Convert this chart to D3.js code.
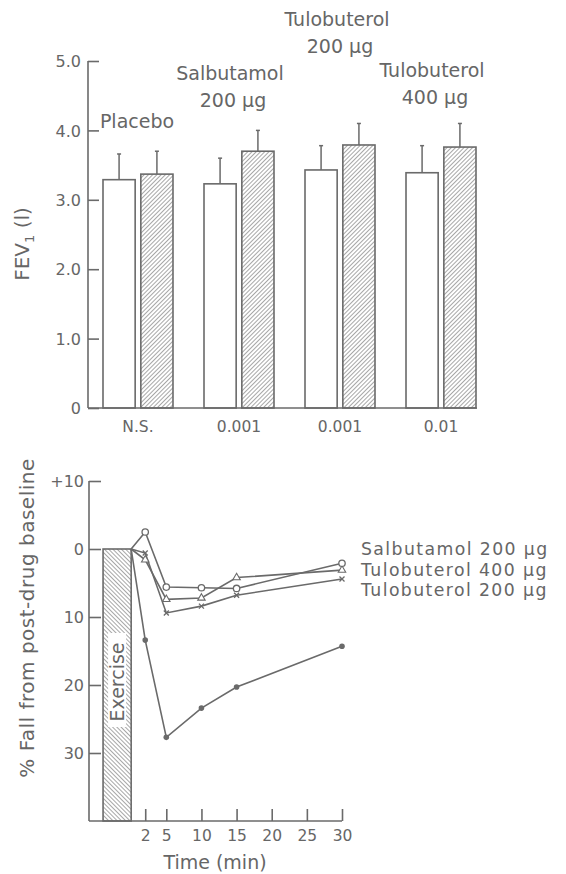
<!DOCTYPE html>
<html><head><meta charset="utf-8">
<script src="https://cdn.jsdelivr.net/npm/d3@7"></script>
<style>
html,body{margin:0;padding:0;background:#fff;}
svg{display:block;}
text{font-family:"DejaVu Sans",sans-serif;fill:#666;}
</style></head>
<body>
<svg id="c" width="566" height="874"></svg>
<script>
// ---- Data: top panel (FEV1, litres) ----
const groups = ["Placebo", "Salbutamol 200 μg", "Tulobuterol 200 μg", "Tulobuterol 400 μg"];
const groupLabelLines = [["Placebo"], ["Salbutamol", "200 μg"], ["Tulobuterol", "200 μg"], ["Tulobuterol", "400 μg"]];
const preMeans  = [3.29, 3.23, 3.43, 3.39];
const preSD     = [0.37, 0.37, 0.35, 0.39];
const postMeans = [3.37, 3.70, 3.79, 3.76];
const postSD    = [0.33, 0.30, 0.31, 0.34];
const pLabels   = ["N.S.", "0.001", "0.001", "0.01"];
const fevTicks  = [0, 1, 2, 3, 4, 5];

// ---- Data: bottom panel (% fall from post-drug baseline) ----
const times       = [0, 2, 5, 10, 15, 30];
const salbutamol  = [0, -2.5, 5.6, 5.7, 5.8, 2.1];
const tulo400     = [0, 1.6, 7.4, 7.2, 4.2, 3.1];
const tulo200     = [0, 0.6, 9.4, 8.4, 6.8, 4.4];
const placebo     = [0, 13.4, 27.7, 23.4, 20.3, 14.3];
const fallTicks   = [-10, 0, 10, 20, 30];
const timeTicks   = [2, 5, 10, 15, 20, 25, 30];
const exercise    = [-4, 0];
const legendNames = ["Salbutamol 200 μg", "Tulobuterol 400 μg", "Tulobuterol 200 μg"];

const C = "#6a6a6a";
const svg = d3.select("#c");

const defs = svg.append("defs");
function hatch(id, angle) {
  const p = defs.append("pattern").attr("id", id).attr("patternUnits", "userSpaceOnUse")
    .attr("width", 3).attr("height", 3).attr("patternTransform", `rotate(${angle})`);
  p.append("rect").attr("width", 3).attr("height", 3).attr("fill", "#fff");
  p.append("line").attr("x1", 0).attr("y1", 0).attr("x2", 0).attr("y2", 3)
    .attr("stroke", "#777").attr("stroke-width", 1.3);
}
hatch("h1", 45);
hatch("h2", -45);

// ================= TOP PANEL =================
const yT = d3.scaleLinear().domain([0, 5]).range([408, 61]);
const xG = d3.scaleBand().domain(groups).range([88, 491]).paddingInner(0.307).paddingOuter(0.1485);
const xS = d3.scaleBand().domain(["pre", "post"]).range([0, xG.bandwidth()]).paddingInner(0.15);

const gTop = svg.append("g");
const axT = d3.axisRight(yT).tickValues(fevTicks).tickSize(11).tickFormat(d => d === 0 ? "0" : d3.format(".1f")(d));
const gAT = gTop.append("g").attr("transform", "translate(88,0)").call(axT);
gAT.select(".domain").remove();
gAT.selectAll(".tick line").attr("stroke", C).attr("stroke-width", 1.6);
gAT.selectAll(".tick text").attr("x", -7).attr("text-anchor", "end").attr("dy", "0.36em")
  .style("font-size", "16px").attr("fill", "#666");
gTop.append("line").attr("x1", 88).attr("x2", 88).attr("y1", yT(5)).attr("y2", yT(0))
  .attr("stroke", C).attr("stroke-width", 1.6);

const bars = [];
groups.forEach((g, i) => {
  bars.push({g, k: "pre", v: preMeans[i], sd: preSD[i]});
  bars.push({g, k: "post", v: postMeans[i], sd: postSD[i]});
});
const bg = gTop.append("g");
bg.selectAll("rect").data(bars).join("rect")
  .attr("x", d => xG(d.g) + xS(d.k)).attr("width", xS.bandwidth())
  .attr("y", d => yT(d.v)).attr("height", d => yT(0) - yT(d.v))
  .attr("fill", d => d.k === "pre" ? "#fff" : "url(#h1)")
  .attr("stroke", C).attr("stroke-width", 1.6);
bg.selectAll("line.err").data(bars).join("line").attr("class", "err")
  .attr("x1", d => xG(d.g) + xS(d.k) + xS.bandwidth() / 2)
  .attr("x2", d => xG(d.g) + xS(d.k) + xS.bandwidth() / 2)
  .attr("y1", d => yT(d.v)).attr("y2", d => yT(d.v + d.sd))
  .attr("stroke", C).attr("stroke-width", 1.5);
bg.selectAll("line.cap").data(bars).join("line").attr("class", "cap")
  .attr("x1", d => xG(d.g) + xS(d.k) + xS.bandwidth() / 2 - 2)
  .attr("x2", d => xG(d.g) + xS(d.k) + xS.bandwidth() / 2 + 2)
  .attr("y1", d => yT(d.v + d.sd)).attr("y2", d => yT(d.v + d.sd))
  .attr("stroke", C).attr("stroke-width", 1.5);
gTop.append("line").attr("x1", 88).attr("x2", xG(groups[3]) + xG.bandwidth() + 1)
  .attr("y1", yT(0)).attr("y2", yT(0)).attr("stroke", C).attr("stroke-width", 1.6);

gTop.selectAll("text.p").data(pLabels).join("text").attr("class", "p")
  .attr("x", (d, i) => xG(groups[i]) + xG.bandwidth() / 2)
  .attr("y", 432).attr("text-anchor", "middle").style("font-size", "15.5px").text(d => d);

const labelLayout = [{y: 128, dx: -1}, {y: 80, dx: -9}, {y: 26, dx: -3}, {y: 77, dx: -9}];
groupLabelLines.forEach((lines, i) => {
  lines.forEach((s, j) => {
    gTop.append("text")
      .attr("x", xG(groups[i]) + xG.bandwidth() / 2 + labelLayout[i].dx + (j ? 3 : 0))
      .attr("y", labelLayout[i].y + j * 27)
      .attr("text-anchor", "middle").style("font-size", "19px").text(s);
  });
});

const fl = gTop.append("text").attr("transform", "translate(29,244) rotate(-90)")
  .attr("text-anchor", "middle").style("font-size", "20px");
fl.append("tspan").text("FEV");
fl.append("tspan").attr("dy", 5).style("font-size", "13px").text("1");
fl.append("tspan").attr("dy", -5).text(" (l)");

// ================= BOTTOM PANEL =================
const xB = d3.scaleLinear().domain([-6, 30]).range([89, 342]);
const yB = d3.scaleLinear().domain([-10, 40]).range([481, 821]);
const gBot = svg.append("g");

gBot.append("rect").attr("x", xB(exercise[0])).attr("width", xB(exercise[1]) - xB(exercise[0]))
  .attr("y", yB(0)).attr("height", yB(40) - yB(0))
  .attr("fill", "url(#h2)").attr("stroke", C).attr("stroke-width", 1.6);
const exCx = (xB(exercise[0]) + xB(exercise[1])) / 2;
gBot.append("rect").attr("x", exCx - 9).attr("width", 18).attr("y", 633).attr("height", 94).attr("fill", "#fff");
gBot.append("text").attr("transform", `translate(${exCx + 7},682) rotate(-90)`)
  .attr("text-anchor", "middle").style("font-size", "19px").text("Exercise");

const axB = d3.axisRight(yB).tickValues(fallTicks).tickSize(12).tickFormat(d => d < 0 ? "+" + (-d) : String(d));
const gAB = gBot.append("g").attr("transform", "translate(89,0)").call(axB);
gAB.select(".domain").remove();
gAB.selectAll(".tick line").attr("stroke", C).attr("stroke-width", 1.6);
gAB.selectAll(".tick text").attr("x", -5).attr("text-anchor", "end").attr("dy", "0.36em")
  .style("font-size", "16px").attr("fill", "#666");
gBot.append("line").attr("x1", 89).attr("x2", 89).attr("y1", yB(-10)).attr("y2", yB(40))
  .attr("stroke", C).attr("stroke-width", 1.6);

const axX = d3.axisTop(xB).tickValues(timeTicks).tickSize(12).tickFormat(d => String(d));
const gX = gBot.append("g").attr("transform", `translate(0,${yB(40)})`).call(axX);
gX.select(".domain").remove();
gX.selectAll(".tick line").attr("stroke", C).attr("stroke-width", 1.6);
gX.selectAll(".tick text").attr("y", 20).attr("dy", 0).style("font-size", "15.5px").attr("fill", "#666");
gBot.append("line").attr("x1", 89).attr("x2", xB(30)).attr("y1", yB(40)).attr("y2", yB(40))
  .attr("stroke", C).attr("stroke-width", 1.6);

const series = [
  {name: "Placebo", vals: placebo, m: "dot"},
  {name: legendNames[2], vals: tulo200, m: "x"},
  {name: legendNames[1], vals: tulo400, m: "tri"},
  {name: legendNames[0], vals: salbutamol, m: "circle"}
];
const line = d3.line().x(d => xB(d[0])).y(d => yB(d[1]));
series.forEach(s => {
  const pts = times.map((t, i) => [t, s.vals[i]]);
  gBot.append("path").attr("d", line(pts)).attr("fill", "none").attr("stroke", C).attr("stroke-width", 1.6);
  const g = gBot.append("g");
  pts.slice(1).forEach(p => {
    const cx = xB(p[0]), cy = yB(p[1]);
    if (s.m === "dot") {
      g.append("circle").attr("cx", cx).attr("cy", cy).attr("r", 2.8).attr("fill", C);
    } else if (s.m === "circle") {
      g.append("circle").attr("cx", cx).attr("cy", cy).attr("r", 3.2).attr("fill", "#fff")
        .attr("stroke", C).attr("stroke-width", 1.3);
    } else if (s.m === "tri") {
      g.append("path").attr("d", d3.symbol(d3.symbolTriangle, 24)()).attr("transform", `translate(${cx},${cy})`)
        .attr("fill", "#fff").attr("stroke", C).attr("stroke-width", 1.1);
    } else {
      g.append("path").attr("d", `M${cx - 2.5},${cy - 2.5}L${cx + 2.5},${cy + 2.5}M${cx - 2.5},${cy + 2.5}L${cx + 2.5},${cy - 2.5}`)
        .attr("stroke", C).attr("stroke-width", 1.3);
    }
  });
});

gBot.selectAll("text.leg").data(legendNames).join("text").attr("class", "leg")
  .attr("x", 361).attr("y", (d, i) => 555 + i * 20.5).style("font-size", "17.3px")
  .style("letter-spacing", "1.4px").text(d => d);

gBot.append("text").attr("transform", "translate(34,618) rotate(-90)").attr("text-anchor", "middle")
  .style("font-size", "20px").style("letter-spacing", "0.5px").text("% Fall from post-drug baseline");
gBot.append("text").attr("x", 215).attr("y", 869).attr("text-anchor", "middle")
  .style("font-size", "19px").text("Time (min)");
</script>
</body></html>
